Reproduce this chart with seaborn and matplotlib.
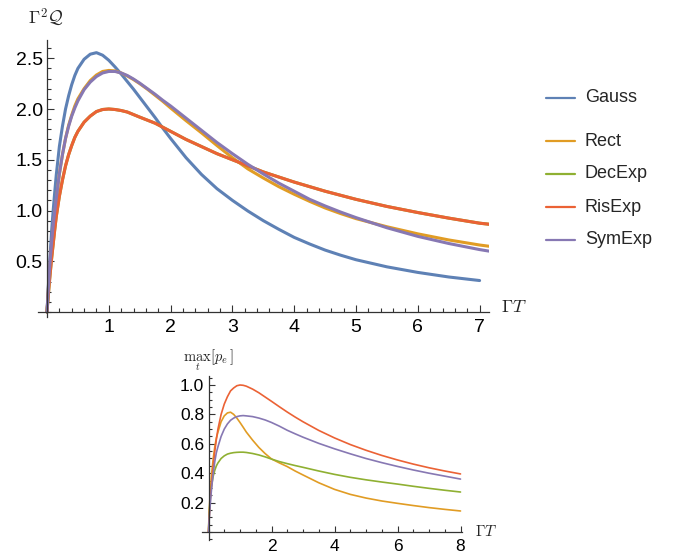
import matplotlib
matplotlib.use("Agg")
import matplotlib.pyplot as plt
import pandas as pd
import seaborn as sns
from matplotlib.lines import Line2D
from matplotlib.ticker import FixedLocator, MultipleLocator

# ---------------- data ----------------
pulse_names = ["Gauss", "Rect", "DecExp", "RisExp", "SymExp"]
pulse_colors = ["#5E81B5", "#E19C24", "#8FB032", "#EB6235", "#8778B3"]

# main panel: Gamma^2 Q versus Gamma T
gauss_x = [0, 0.01, 0.02, 0.035, 0.05, 0.075, 0.1, 0.125, 0.15, 0.2, 0.25, 0.3,
           0.35, 0.4, 0.45, 0.5, 0.6, 0.7, 0.8, 0.9, 1.0, 1.1, 1.2, 1.3, 1.4,
           1.5, 1.625, 1.75, 1.875, 2.0, 2.25, 2.5, 2.75, 3.0, 3.25, 3.5, 3.75,
           4.0, 4.25, 4.5, 4.75, 5.0, 5.5, 6.0, 6.5, 7.0]
gauss_main = [0, 0.11, 0.23, 0.40, 0.55, 0.80, 1.0, 1.18, 1.35, 1.63, 1.83, 2.0,
              2.13, 2.24, 2.33, 2.40, 2.49, 2.54, 2.555, 2.53, 2.48, 2.415,
              2.345, 2.27, 2.195, 2.115, 2.015, 1.915, 1.81, 1.71, 1.52, 1.355,
              1.215, 1.10, 0.995, 0.90, 0.815, 0.735, 0.67, 0.61, 0.56, 0.515,
              0.445, 0.39, 0.345, 0.31]

main_x = [0, 0.01, 0.02, 0.035, 0.05, 0.075, 0.1, 0.125, 0.15, 0.2, 0.25, 0.3,
          0.35, 0.4, 0.45, 0.5, 0.6, 0.7, 0.8, 0.9, 1.0, 1.1, 1.2, 1.3, 1.4,
          1.5, 1.625, 1.75, 1.875, 2.0, 2.25, 2.5, 2.75, 3.0, 3.25, 3.5, 3.75,
          4.0, 4.25, 4.5, 4.75, 5.0, 5.5, 6.0, 6.5, 7.0, 7.15]
rect_main = [0, 0.10, 0.20, 0.34, 0.47, 0.65, 0.82, 0.97, 1.10, 1.36, 1.55,
             1.71, 1.84, 1.94, 2.03, 2.10, 2.20, 2.28, 2.335, 2.37, 2.38, 2.375,
             2.355, 2.325, 2.29, 2.25, 2.195, 2.135, 2.075, 2.01, 1.885, 1.765,
             1.64, 1.52, 1.41, 1.32, 1.235, 1.16, 1.09, 1.025, 0.97, 0.92, 0.84,
             0.77, 0.71, 0.66, 0.648]
risexp_main = [0, 0.08, 0.16, 0.27, 0.37, 0.53, 0.67, 0.81, 0.94, 1.14, 1.30,
               1.44, 1.55, 1.64, 1.72, 1.78, 1.87, 1.93, 1.975, 1.995, 2.0,
               1.995, 1.985, 1.97, 1.945, 1.92, 1.89, 1.86, 1.82, 1.78, 1.70,
               1.63, 1.56, 1.50, 1.44, 1.38, 1.33, 1.28, 1.235, 1.19, 1.15,
               1.11, 1.04, 0.98, 0.925, 0.875, 0.865]
decexp_main = list(risexp_main)  # coincides with RisExp (hidden below it)
symexp_main = [0, 0.11, 0.22, 0.37, 0.50, 0.69, 0.85, 0.99, 1.12, 1.36, 1.55,
               1.71, 1.83, 1.93, 2.01, 2.08, 2.19, 2.265, 2.32, 2.355, 2.37,
               2.37, 2.355, 2.33, 2.295, 2.255, 2.20, 2.145, 2.085, 2.03, 1.91,
               1.79, 1.67, 1.56, 1.455, 1.36, 1.27, 1.19, 1.11, 1.045, 0.985,
               0.93, 0.83, 0.745, 0.675, 0.615, 0.60]

# inset: max_t p_e versus Gamma T
inset_x = [0, 0.01, 0.02, 0.035, 0.05, 0.075, 0.1, 0.15, 0.2, 0.25, 0.3, 0.4,
           0.5, 0.6, 0.7, 0.8, 0.9, 1.0, 1.1, 1.2, 1.4, 1.6, 1.8, 2.0, 2.25,
           2.5, 2.75, 3.0, 3.5, 4.0, 4.5, 5.0, 5.5, 6.0, 6.5, 7.0, 7.5, 8.0]
rect_inset = [0, 0.06, 0.12, 0.19, 0.25, 0.33, 0.40, 0.50, 0.58, 0.64, 0.68,
              0.75, 0.79, 0.81, 0.815, 0.80, 0.775, 0.745, 0.713, 0.68, 0.625,
              0.575, 0.533, 0.497, 0.47, 0.445, 0.415, 0.388, 0.335, 0.29,
              0.256, 0.231, 0.211, 0.195, 0.18, 0.166, 0.154, 0.143]
decexp_inset = [0, 0.07, 0.12, 0.17, 0.22, 0.27, 0.32, 0.38, 0.42, 0.45, 0.47,
                0.50, 0.518, 0.53, 0.536, 0.54, 0.542, 0.543, 0.543, 0.541,
                0.534, 0.524, 0.511, 0.496, 0.479, 0.465, 0.452, 0.44, 0.415,
                0.392, 0.372, 0.355, 0.34, 0.326, 0.311, 0.297, 0.284, 0.272]
risexp_inset = [0, 0.05, 0.09, 0.15, 0.20, 0.27, 0.33, 0.45, 0.55, 0.63, 0.70,
                0.80, 0.87, 0.92, 0.96, 0.98, 0.995, 1.0, 0.998, 0.992, 0.972,
                0.947, 0.918, 0.889, 0.852, 0.816, 0.782, 0.75, 0.691, 0.64,
                0.595, 0.556, 0.521, 0.49, 0.462, 0.437, 0.415, 0.395]
symexp_inset = [0, 0.04, 0.08, 0.13, 0.17, 0.24, 0.30, 0.40, 0.48, 0.54, 0.58,
                0.65, 0.70, 0.735, 0.76, 0.775, 0.785, 0.79, 0.792, 0.79, 0.785,
                0.775, 0.762, 0.745, 0.72, 0.692, 0.668, 0.645, 0.603, 0.566,
                0.532, 0.50, 0.472, 0.446, 0.422, 0.40, 0.38, 0.36]

main_xticks = [1, 2, 3, 4, 5, 6, 7]
main_yticks = [0.5, 1.0, 1.5, 2.0, 2.5]
inset_xticks = [2, 4, 6, 8]
inset_yticks = [0.2, 0.4, 0.6, 0.8, 1.0]

# ---------------- tables ----------------
def long_table(pairs):
    rows = []
    for name, xs, ys in pairs:
        for xv, yv in zip(xs, ys):
            rows.append({"GT": xv, "val": yv, "pulse": name})
    return pd.DataFrame(rows)

df_main = long_table([
    ("Gauss", gauss_x, gauss_main),
    ("Rect", main_x, rect_main),
    ("DecExp", main_x, decexp_main),
    ("RisExp", main_x, risexp_main),
    ("SymExp", main_x, symexp_main),
])
df_inset = long_table([
    ("Rect", inset_x, rect_inset),
    ("DecExp", inset_x, decexp_inset),
    ("RisExp", inset_x, risexp_inset),
    ("SymExp", inset_x, symexp_inset),
])
palette = dict(zip(pulse_names, pulse_colors))

# ---------------- style ----------------
sns.set_theme(style="white")
plt.rcParams["font.family"] = ["Liberation Sans", "DejaVu Sans"]
plt.rcParams["mathtext.fontset"] = "cm"

W, H = 683, 557
fig = plt.figure(figsize=(W / 100, H / 100), dpi=100)
fig.patch.set_facecolor("white")

AX_COLOR = "#333333"

def style_axes(ax, xticks, yticks, xminor, yminor, lsize, xpad, ypad, maj, mnr):
    for s in ["top", "right"]:
        ax.spines[s].set_visible(False)
    for s in ["left", "bottom"]:
        ax.spines[s].set_position(("data", 0))
        ax.spines[s].set_color(AX_COLOR)
        ax.spines[s].set_linewidth(0.9)
    ax.xaxis.set_major_locator(FixedLocator(xticks))
    ax.yaxis.set_major_locator(FixedLocator(yticks))
    ax.xaxis.set_minor_locator(MultipleLocator(xminor))
    ax.yaxis.set_minor_locator(MultipleLocator(yminor))
    ax.set_xticklabels([f"{t:g}" for t in xticks])
    ax.set_yticklabels([f"{t:.1f}" for t in yticks])
    ax.tick_params(which="both", direction="in", color=AX_COLOR, width=0.8,
                   labelcolor="black", labelsize=lsize, bottom=True, left=True)
    ax.tick_params(which="major", length=maj)
    ax.tick_params(which="minor", length=mnr)
    ax.tick_params(axis="x", which="major", pad=xpad)
    ax.tick_params(axis="y", which="major", pad=ypad)
    ax.set_xlabel("")
    ax.set_ylabel("")
    ax.set_facecolor("none")
    ax.grid(False)

# main axes: x px = 47 + 61.8 x ; y px = 312 - 101.5 y
mx0, mxs = 47.0, 61.8
my0, mys = 312.0, 101.5
mxlim = (-0.15, 7.15)
mylim = (-0.05, 2.68)
left = mx0 + mxlim[0] * mxs
right = mx0 + mxlim[1] * mxs
top = my0 - mylim[1] * mys
bottom = my0 - mylim[0] * mys
ax = fig.add_axes([left / W, 1 - bottom / H, (right - left) / W, (bottom - top) / H])
sns.lineplot(data=df_main, x="GT", y="val", hue="pulse", hue_order=pulse_names,
             palette=palette, estimator=None, sort=False, linewidth=2.2,
             legend=False, ax=ax)
ax.set_xlim(*mxlim)
ax.set_ylim(*mylim)
style_axes(ax, main_xticks, main_yticks, 0.2, 0.1, 14, 5, 3, 5, 3)

# inset axes: x px = 208.5 + 31.5 x ; y px = 532 - 147 y
ix0, ixs = 208.5, 31.5
iy0, iys = 532.0, 147.0
ixlim = (-0.2, 8.05)
iylim = (-0.055, 1.06)
left = ix0 + ixlim[0] * ixs
right = ix0 + ixlim[1] * ixs
top = iy0 - iylim[1] * iys
bottom = iy0 - iylim[0] * iys
ax2 = fig.add_axes([left / W, 1 - bottom / H, (right - left) / W, (bottom - top) / H])
sns.lineplot(data=df_inset, x="GT", y="val", hue="pulse",
             hue_order=["Rect", "DecExp", "RisExp", "SymExp"],
             palette=palette, estimator=None, sort=False, linewidth=1.2,
             legend=False, ax=ax2)
ax2.set_xlim(*ixlim)
ax2.set_ylim(*iylim)
style_axes(ax2, inset_xticks, inset_yticks, 0.5, 0.05, 12.5, 5, 3, 4, 2.5)

# axis labels
fig.text(46 / W, 1 - 17 / H, r"$\Gamma^2\mathcal{Q}$", ha="center", va="center",
         fontsize=13)
fig.text(501 / W, 1 - 308 / H, r"$\Gamma T$", ha="left", va="center", fontsize=13)
fig.text(208 / W, 1 - 360 / H, r"$\max_{t}[p_e]$", ha="center", va="center",
         fontsize=10.5)
fig.text(475 / W, 1 - 531 / H, r"$\Gamma T$", ha="left", va="center", fontsize=11)

# legend (manual, Mathematica-like spacing)
legend_y = [98, 141, 174, 207, 240]
for name, col, yy in zip(pulse_names, pulse_colors, legend_y):
    fig.add_artist(Line2D([546 / W, 575 / W], [1 - yy / H, 1 - yy / H],
                          transform=fig.transFigure, color=col, linewidth=1.6))
    fig.text(585 / W, 1 - yy / H, name, ha="left", va="center", fontsize=13)

fig.savefig("out.png", dpi=100, facecolor="white")
